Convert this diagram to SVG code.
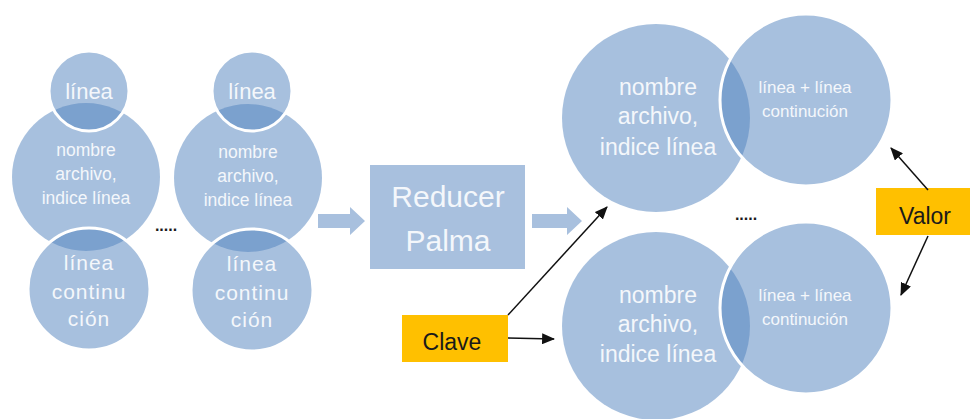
<svg xmlns="http://www.w3.org/2000/svg" width="970" height="419" viewBox="0 0 970 419">
<style>
.c{fill:#4F81BD;fill-opacity:0.5;}
.f{fill:#4F81BD;fill-opacity:0.5;stroke:#fff;stroke-width:3;}
.t{font-family:"Liberation Sans",Arial,sans-serif;fill:#F4F7FB;text-anchor:middle;}
.bk{font-family:"Liberation Sans",Arial,sans-serif;fill:#1a1a1a;text-anchor:middle;}
.box{fill:#A8C0DE;}
.o{fill:#FFC000;}
.ln{stroke:#111;stroke-width:1.5;fill:none;marker-end:url(#ah);}
</style>
<defs>
<marker id="ah" viewBox="0 0 12 10" refX="11" refY="5" markerWidth="13" markerHeight="11" markerUnits="userSpaceOnUse" orient="auto">
<path d="M0,0 L12,5 L0,10 z" fill="#111"/>
</marker>
</defs>
<rect width="970" height="419" fill="#fff"/>

<g id="map1">
<circle class="c" cx="86" cy="177" r="74"/>
<circle class="f" cx="89" cy="91" r="40"/>
<circle class="f" cx="89" cy="289" r="61"/>
<text class="t" x="89" y="99" font-size="22">línea</text>
<text class="t" x="86" y="156" font-size="17.5">nombre</text>
<text class="t" x="86" y="180" font-size="17.5">archivo,</text>
<text class="t" x="86" y="204" font-size="17.5">indice línea</text>
<text class="t" x="89" y="270" font-size="21" letter-spacing="1">línea</text>
<text class="t" x="89" y="299" font-size="21" letter-spacing="1">continu</text>
<text class="t" x="89" y="326" font-size="21" letter-spacing="1">ción</text>
</g>

<g id="map2">
<circle class="c" cx="248" cy="178" r="74"/>
<circle class="f" cx="252" cy="91" r="40"/>
<circle class="f" cx="252" cy="290" r="61"/>
<text class="t" x="252" y="99" font-size="22">línea</text>
<text class="t" x="248" y="158" font-size="17.5">nombre</text>
<text class="t" x="248" y="182" font-size="17.5">archivo,</text>
<text class="t" x="248" y="206" font-size="17.5">indice línea</text>
<text class="t" x="252" y="271" font-size="21" letter-spacing="1">línea</text>
<text class="t" x="252" y="300" font-size="21" letter-spacing="1">continu</text>
<text class="t" x="252" y="327" font-size="21" letter-spacing="1">ción</text>
</g>

<g id="dots1"><text class="bk" x="166" y="231" font-size="16" font-weight="bold" fill="#2a2a40">.....</text></g>

<g id="reducer">
<rect class="box" x="370" y="165" width="155" height="104"/>
<text class="t" x="448" y="207" font-size="30">Reducer</text>
<text class="t" x="448" y="251" font-size="30">Palma</text>
</g>

<g id="result1">
<circle class="c" cx="656" cy="118" r="94"/>
<circle class="f" cx="806" cy="100" r="86"/>
<text class="t" x="658" y="95" font-size="23">nombre</text>
<text class="t" x="658" y="124" font-size="23">archivo,</text>
<text class="t" x="658" y="155" font-size="23">indice línea</text>
<text class="t" x="805" y="93" font-size="17">línea + línea</text>
<text class="t" x="805" y="117" font-size="17">continución</text>
</g>

<g id="result2">
<circle class="c" cx="656" cy="326" r="94"/>
<circle class="f" cx="806" cy="308" r="86"/>
<text class="t" x="658" y="303" font-size="23">nombre</text>
<text class="t" x="658" y="332" font-size="23">archivo,</text>
<text class="t" x="658" y="362" font-size="23">indice línea</text>
<text class="t" x="805" y="301" font-size="17">línea + línea</text>
<text class="t" x="805" y="325" font-size="17">continución</text>
</g>

<g id="dots2"><text class="bk" x="746" y="220" font-size="16" font-weight="bold" fill="#2a2a40">.....</text></g>

<g id="clave">
<rect class="o" x="402" y="315" width="106" height="47"/>
<text class="bk" x="452" y="350" font-size="23">Clave</text>
</g>

<g id="valor">
<rect class="o" x="876" y="188" width="94" height="47"/>
<text class="bk" x="925" y="224" font-size="23">Valor</text>
</g>

<g id="connectors">
<path class="box" d="M318,214 H350 V207 L365,221 L350,235 V228 H318 z"/>
<path class="box" d="M532,214 H567 V207 L582,221 L567,235 V228 H532 z"/>
<line class="ln" x1="508" y1="315" x2="607" y2="207"/>
<line class="ln" x1="508" y1="338" x2="554" y2="339"/>
<line class="ln" x1="928" y1="190" x2="891" y2="148"/>
<line class="ln" x1="928" y1="236" x2="901" y2="295"/>
</g>
</svg>
